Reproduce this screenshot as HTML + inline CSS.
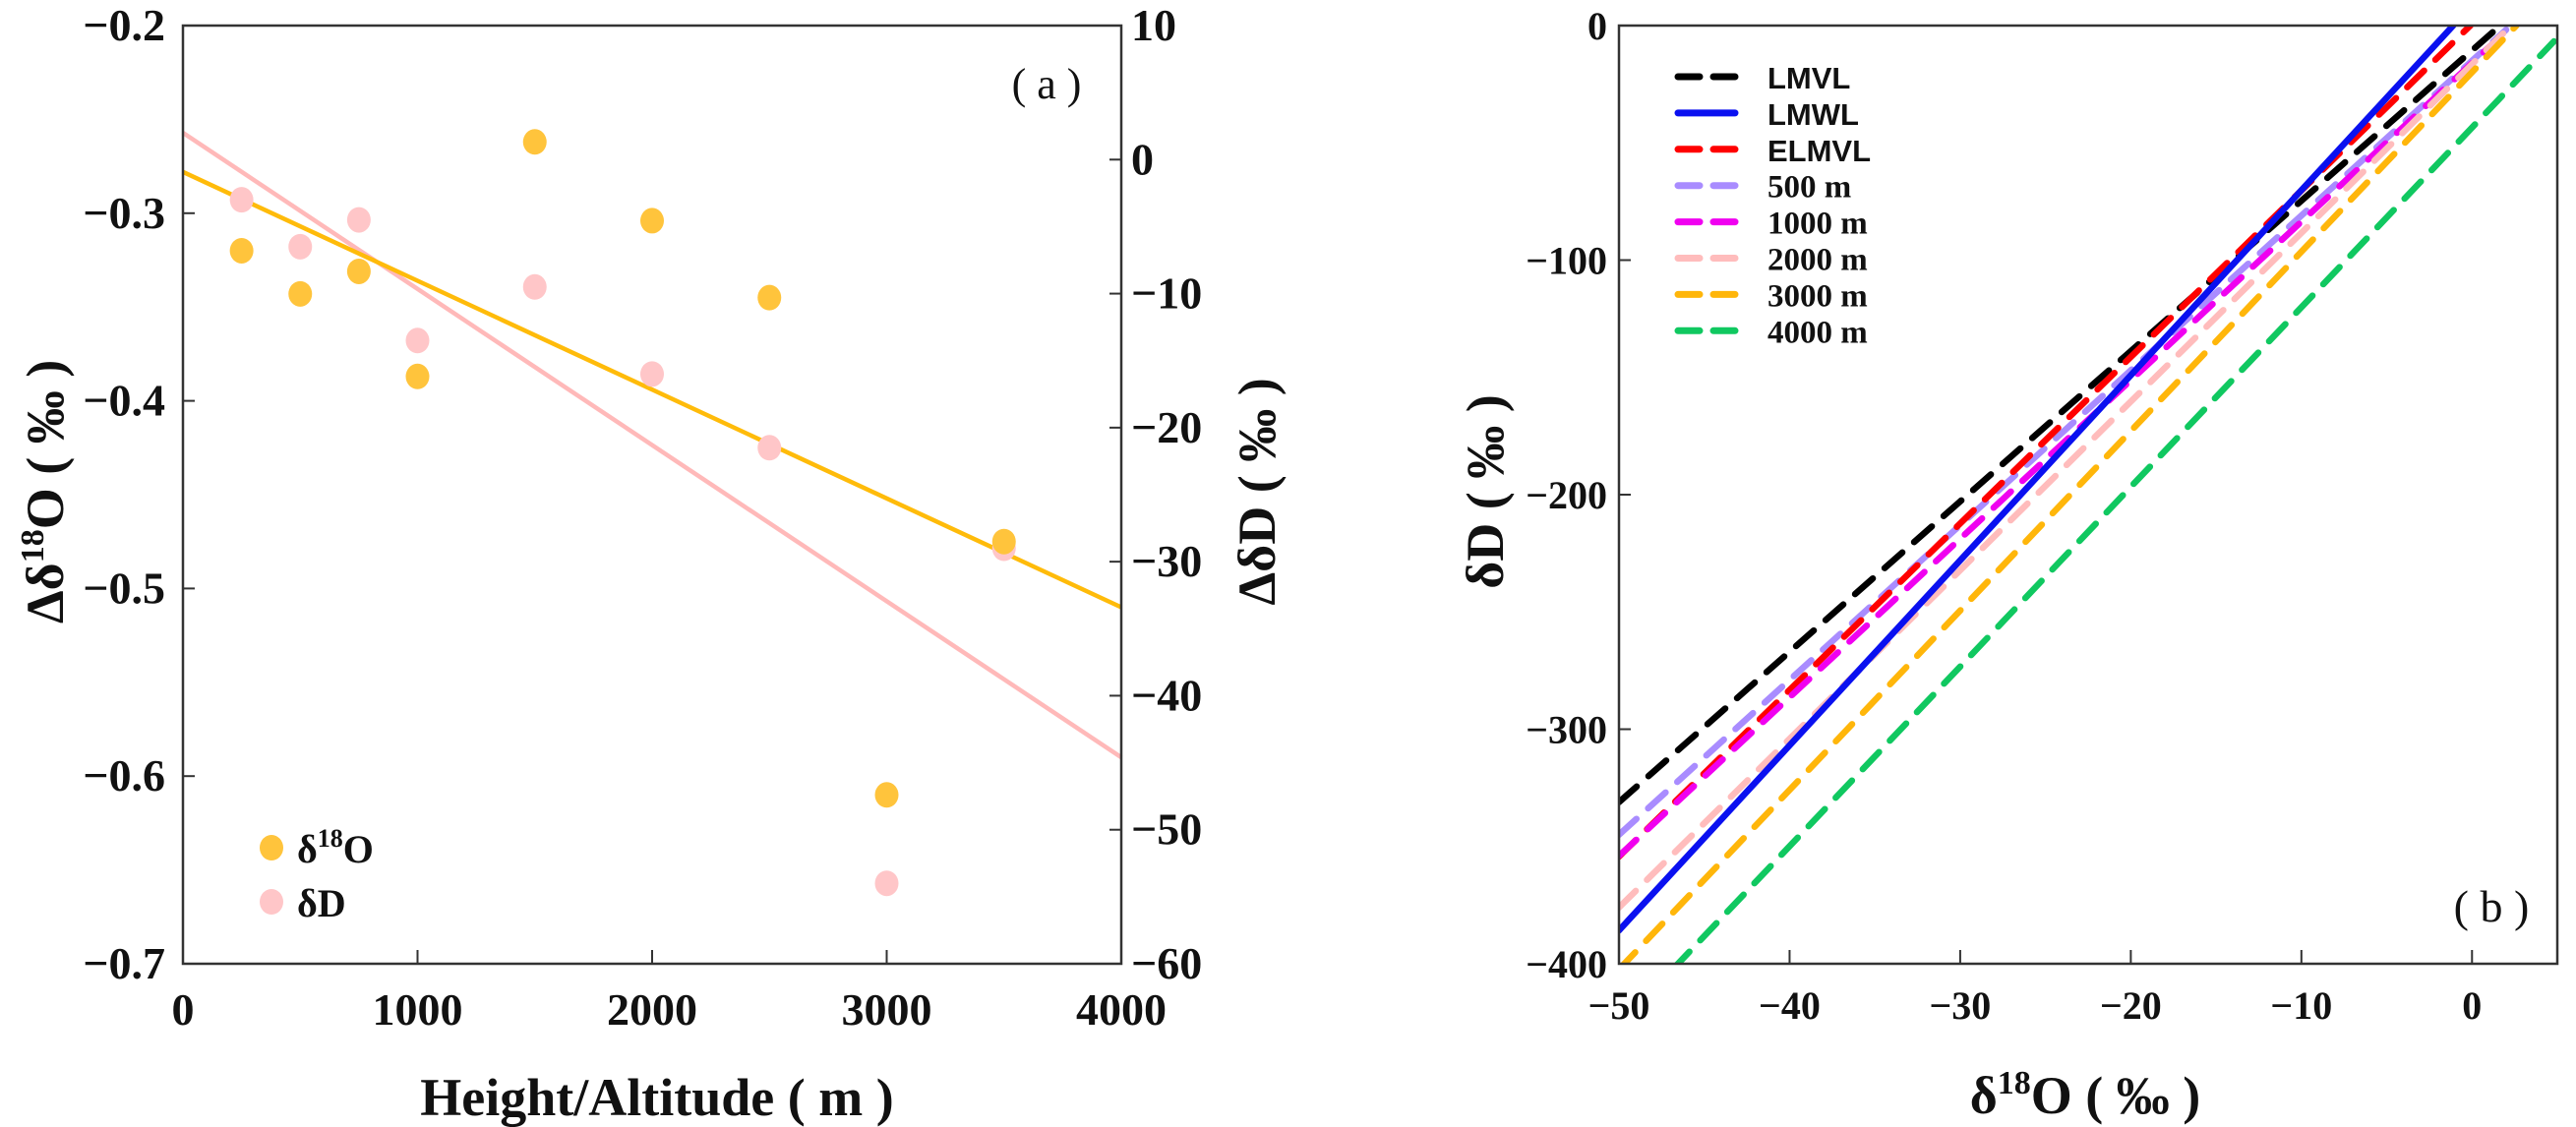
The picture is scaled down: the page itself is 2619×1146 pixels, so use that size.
<!DOCTYPE html>
<html><head><meta charset="utf-8"><style>
html,body{margin:0;padding:0;background:#fff;}
svg{display:block;}
text{font-family:"Liberation Serif",serif;font-weight:bold;fill:#111;}
</style></head><body>
<svg id="fig" width="2619" height="1146" viewBox="0 0 2619 1146" xmlns="http://www.w3.org/2000/svg">
<g id="pa"></g>
<g id="pb"></g>
</svg>
<script>
// Panel a data
const heights = [250, 500, 750, 1000, 1500, 2000, 2500, 3000, 3500];
const d18O = [-0.32, -0.343, -0.331, -0.387, -0.262, -0.304, -0.345, -0.61, -0.475];
const dD = [-3, -6.5, -4.5, -13.5, -9.5, -16, -21.5, -54, -29];
const fitO = [[0, -0.278], [4000, -0.51]];
const fitD = [[0, 2.0], [4000, -44.6]];
const aXTicks = [0, 1000, 2000, 3000, 4000];
const aYTicks = [-0.2, -0.3, -0.4, -0.5, -0.6, -0.7];
const aY2Ticks = [10, 0, -10, -20, -30, -40, -50, -60];
// Panel b data
const lineNames = ["LMVL", "LMWL", "ELMVL", "500 m", "1000 m", "2000 m", "3000 m", "4000 m"];
const lineColors = ["#000000", "#0a10f0", "#ff0000", "#a98cff", "#f000f0", "#ffbcbc", "#ffb60a", "#10c860"];
const lineSlopes = [6.41, 7.89, 7.1, 6.6, 6.76, 7.19, 7.65, 7.66];
const lineIntercepts = [-10.6, 8.7, 0.7, -15, -16, -16.5, -19.9, -43.5];
const lineEndX = [1.65, -1.1, -0.1, 2.0, 2.0, 2.1, 2.6, 4.8];
const bXTicks = [-50, -40, -30, -20, -10, 0];
const bYTicks = [0, -100, -200, -300, -400];

const NS = "http://www.w3.org/2000/svg";
function mk(parent, tag, attrs, txt){
  const e = document.createElementNS(NS, tag);
  for (const k in attrs) e.setAttribute(k, attrs[k]);
  if (txt !== undefined) e.textContent = txt;
  parent.appendChild(e);
  return e;
}
const pa = document.getElementById('pa');
const pb = document.getElementById('pb');

// ---- Panel a ----
const AL = 186, AR = 1140, AT = 26, AB = 980;
const ax = v => AL + (v - 0) / 4000 * (AR - AL);
const ay = v => AT + (-0.2 - v) / 0.5 * (AB - AT);
const ay2 = v => AT + (10 - v) / 70 * (AB - AT);

let l = mk(pa, 'line', {x1: ax(fitD[0][0]), y1: ay2(fitD[0][1]), x2: ax(fitD[1][0]), y2: ay2(fitD[1][1]), stroke: '#ffb9b9', 'stroke-width': 4.5});


l = mk(pa, 'line', {x1: ax(fitO[0][0]), y1: ay(fitO[0][1]), x2: ax(fitO[1][0]), y2: ay(fitO[1][1]), stroke: '#ffbb0a', 'stroke-width': 4.5});


heights.forEach((h, i) => {
  let c = mk(pa, 'ellipse', {cx: ax(h), cy: ay2(dD[i]), rx: 12, ry: 13, fill: '#ffc6c8'});
  
  
  c = mk(pa, 'ellipse', {cx: ax(h), cy: ay(d18O[i]), rx: 12, ry: 13, fill: '#ffc43c'});
  
  
});
let fr = mk(pa, 'path', {d: `M${AL},${AB} V${AT} H${AR} V${AB} Z`, fill: 'none', stroke: '#333', 'stroke-width': 2.5});


aXTicks.forEach(v => {
  mk(pa, 'line', {x1: ax(v), x2: ax(v), y1: AB, y2: AB - 14, stroke: '#333', 'stroke-width': 2});
  const t = mk(pa, 'text', {x: ax(v), y: 1042, 'text-anchor': 'middle', 'font-size': 46}, String(v));
  
  
});
aYTicks.forEach(v => {
  mk(pa, 'line', {x1: AL, x2: AL + 12, y1: ay(v), y2: ay(v), stroke: '#333', 'stroke-width': 2});
  const t = mk(pa, 'text', {x: 168, y: ay(v) + 15, 'text-anchor': 'end', 'font-size': 46}, (v).toFixed(1).replace('-', '\u2212'));
  
  
});
aY2Ticks.forEach(v => {
  mk(pa, 'line', {x1: AR - 12, x2: AR, y1: ay2(v), y2: ay2(v), stroke: '#333', 'stroke-width': 2});
  const t = mk(pa, 'text', {x: 1150, y: ay2(v) + 15, 'text-anchor': 'start', 'font-size': 46}, String(v).replace('-', '\u2212'));
  
  
});
</script>
<script>
(function(){
const pa = document.getElementById('pa');
pa.insertAdjacentHTML('beforeend', `
<text x="1064" y="100" text-anchor="middle" font-size="44" style="font-weight:normal">( a )</text>
<text x="668" y="1134" text-anchor="middle" font-size="54">Height/Altitude ( m )</text>
<text transform="translate(64,500) rotate(-90)" text-anchor="middle" font-size="54">Δδ<tspan font-size="34" dy="-20">18</tspan><tspan dy="20">O ( ‰ )</tspan></text>
<text transform="translate(1296,500) rotate(-90)" text-anchor="middle" font-size="54">ΔδD ( ‰ )</text>
<g>
<ellipse cx="276" cy="862" rx="12" ry="13" fill="#ffc43c"/>
<text x="302" y="877" font-size="40">δ<tspan font-size="26" dy="-16">18</tspan><tspan dy="16">O</tspan></text>
<ellipse cx="276" cy="917" rx="12" ry="13" fill="#ffc6c8"/>
<text x="302" y="932" font-size="40">δD</text>
</g>`);
})();
</script>
<script>
(function(){
const BL = 1646, BR = 2600, BT = 26, BB = 980;
const bx = v => BL + (v + 50) / 55 * (BR - BL);
const by = v => BT + (0 - v) / 400 * (BB - BT);
mk(pb, 'clipPath', {id: 'clipb'}).appendChild(document.createElementNS(NS, 'rect'));
const cr = pb.querySelector('#clipb rect');
cr.setAttribute('x', BL); cr.setAttribute('y', BT); cr.setAttribute('width', BR - BL); cr.setAttribute('height', BB - BT);
const g = mk(pb, 'g', {'clip-path': 'url(#clipb)'});


const order = [0, 3, 2, 4, 5, 1, 6, 7];
order.forEach(i => {
  const x0 = -50, x1 = lineEndX[i];
  const p = mk(g, 'line', {x1: bx(x0), y1: by(lineSlopes[i] * x0 + lineIntercepts[i]), x2: bx(x1), y2: by(lineSlopes[i] * x1 + lineIntercepts[i]), stroke: lineColors[i], 'stroke-width': 6.5, 'stroke-linecap': 'round'});
  if (i !== 1) p.setAttribute('stroke-dasharray', '24 16');
  
  
});
const fr = mk(pb, 'rect', {x: BL, y: BT, width: BR - BL, height: BB - BT, fill: 'none', stroke: '#333', 'stroke-width': 2.5});


bXTicks.forEach(v => {
  mk(pb, 'line', {x1: bx(v), x2: bx(v), y1: BB, y2: BB - 14, stroke: '#333', 'stroke-width': 2});
  const t = mk(pb, 'text', {x: bx(v), y: 1036, 'text-anchor': 'middle', 'font-size': 40}, String(v).replace('-', '\u2212'));
  
  
});
bYTicks.forEach(v => {
  mk(pb, 'line', {x1: BL, x2: BL + 12, y1: by(v), y2: by(v), stroke: '#333', 'stroke-width': 2});
  const t = mk(pb, 'text', {x: 1634, y: by(v) + 14, 'text-anchor': 'end', 'font-size': 40}, String(v).replace('-', '\u2212'));
  
  
});
const lg = mk(pb, 'g', {});


lineNames.forEach((n, i) => {
  const y = 78 + i * 36.9;
  const ln = mk(lg, 'line', {x1: 1706, x2: 1764, y1: y, y2: y, stroke: lineColors[i], 'stroke-width': 7, 'stroke-linecap': 'round'});
  if (i !== 1) ln.setAttribute('stroke-dasharray', '22 14');
  
  
  const sans = i < 3;
  const t = mk(lg, 'text', {x: 1797, y: y + 12, 'font-size': sans ? 31 : 33}, n);
  if (sans) t.setAttribute('style', 'font-family:"Liberation Sans",sans-serif');
  
  
});
pb.insertAdjacentHTML('beforeend', `
<text x="2533" y="937" text-anchor="middle" font-size="46" style="font-weight:normal">( b )</text>
<text x="2120" y="1132" text-anchor="middle" font-size="54">δ<tspan font-size="34" dy="-20">18</tspan><tspan dy="20">O ( ‰ )</tspan></text>
<text transform="translate(1528,500) rotate(-90)" text-anchor="middle" font-size="54">δD ( ‰ )</text>`);
})();
</script>
</body></html>
